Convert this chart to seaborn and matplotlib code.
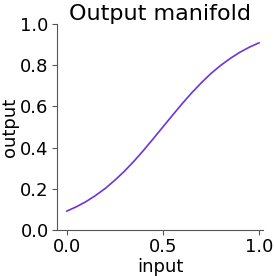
import numpy as np
import pandas as pd
import matplotlib
matplotlib.use("Agg")
import matplotlib.pyplot as plt
import seaborn as sns

# values
inputs = [0.0, 0.05, 0.1, 0.15, 0.2, 0.25, 0.3, 0.35, 0.4, 0.45, 0.5,
          0.55, 0.6, 0.65, 0.7, 0.75, 0.8, 0.85, 0.9, 0.95, 1.0]
outputs = [0.091, 0.112, 0.137, 0.167, 0.201, 0.241, 0.285, 0.334, 0.387, 0.443, 0.5,
           0.557, 0.613, 0.666, 0.715, 0.760, 0.799, 0.833, 0.863, 0.888, 0.909]

df = pd.DataFrame({'input': inputs, 'output': outputs})

sns.set_style("ticks")
plt.rcParams['font.family'] = ['DejaVu Sans']
plt.rcParams['text.color'] = 'black'
plt.rcParams['axes.labelcolor'] = 'black'
plt.rcParams['xtick.color'] = 'black'
plt.rcParams['ytick.color'] = 'black'

fig = plt.figure(figsize=(2.74, 2.76), dpi=100)
ax = fig.add_axes([0.208, 0.167, 0.752, 0.746])
sns.lineplot(x='input', y='output', data=df, ax=ax, color='#6a35e0', linewidth=1.2)
ax.set_xlim(-0.05, 1.02)
ax.set_ylim(0, 1)
ax.set_xticks([0.0, 0.5, 1.0])
ax.set_yticks([0.0, 0.2, 0.4, 0.6, 0.8, 1.0])
ax.tick_params(labelsize=13, length=3.5, pad=2.5, color='#555555')
ax.set_xlabel('input', fontsize=13, labelpad=1)
ax.set_ylabel('output', fontsize=13, labelpad=1)
ax.set_title('Output manifold', fontsize=16, pad=3)
ax.spines['left'].set_color('#555555')
ax.spines['bottom'].set_color('#555555')
sns.despine(ax=ax)

fig.savefig('out.png', dpi=100)
